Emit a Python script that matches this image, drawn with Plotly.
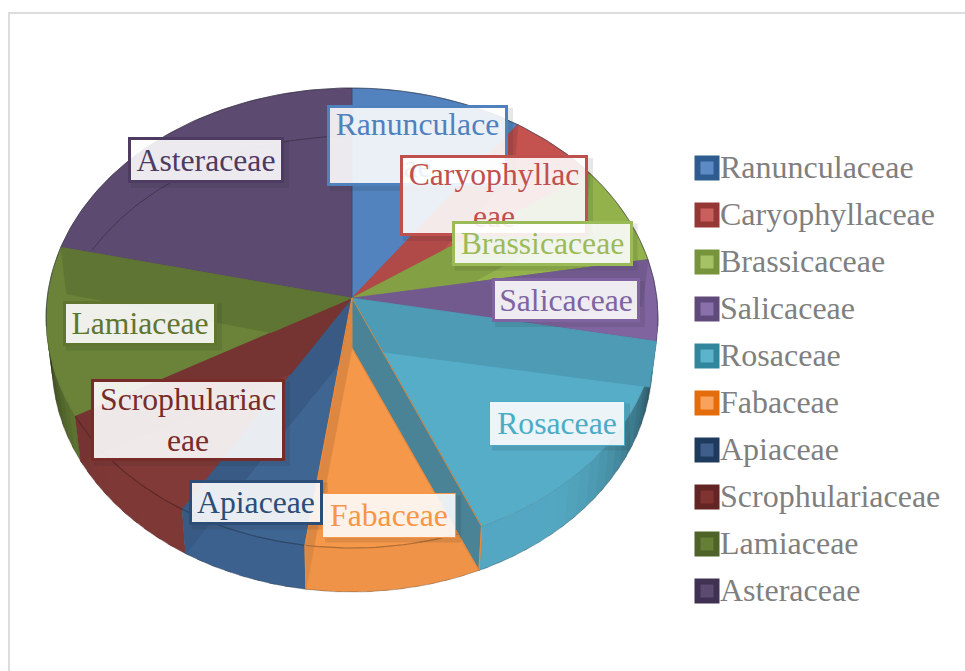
import math
import plotly.graph_objects as go

families = ["Ranunculaceae", "Caryophyllaceae", "Brassicaceae", "Salicaceae", "Rosaceae",
            "Fabaceae", "Apiaceae", "Scrophulariaceae", "Lamiaceae", "Asteraceae"]
values = [9.1, 5.1, 6.7, 5.7, 16.4, 9.4, 6.9, 8.6, 12.0, 20.0]
wrapped = ["Ranunculace<br>ae", "Caryophyllac<br>eae", "Brassicaceae", "Salicaceae", "Rosaceae",
           "Fabaceae", "Apiaceae", "Scrophulariac<br>eae", "Lamiaceae", "Asteraceae"]
top_colors = ["#5283bf", "#c45350", "#93b24c", "#7f649f", "#56adc8",
              "#f6984a", "#3f6593", "#823a38", "#6a8339", "#5c4a70"]
label_colors = ["#4f81bd", "#c0504d", "#9bbb59", "#8064a2", "#4bacc6",
                "#f79646", "#2c4d75", "#772c2a", "#5f7530", "#4d3b62"]
legend_outer = ["#2f5c8f", "#953735", "#77933c", "#604a7b", "#31859c",
                "#e46c0a", "#1f3a5f", "#632523", "#4f6228", "#3f3151"]
legend_inner = ["#5c8ac4", "#c9605d", "#a5c264", "#8a70aa", "#5cb3cc",
                "#f8a25c", "#3f5f8a", "#7f3432", "#667f36", "#5c4a70"]
# label box centre and outer size, in pixels
label_x = [417.5, 494, 542, 566, 557, 389, 256, 188, 140, 206]
label_y = [145.5, 195.5, 243, 300, 423, 515, 502, 420, 323, 160]
label_w = [181, 188, 181, 148, 136, 134, 134, 194, 154, 156]
label_h = [81, 81, 45, 44, 45, 45, 45, 82, 45, 46]

# pie geometry (pixels)
APEX = (352.0, 298.0)
APEX_LOW = (352.0, 348.0)
TOP = dict(cx=352.0, cy=318.0, rx=306.0, ry=230.0)
LOW = dict(cx=352.0, cy=364.0, rx=300.0, ry=228.0)
total = sum(values)
bounds = [0.0]
for v in values:
    bounds.append(bounds[-1] + 360.0 * v / total)


def pt(e, deg):
    a = math.radians(deg)
    return (e["cx"] + e["rx"] * math.sin(a), e["cy"] - e["ry"] * math.cos(a))


def arc(e, a, b, step=1.0):
    n = max(2, int(abs(b - a) / step) + 1)
    return [pt(e, a + (b - a) * i / (n - 1)) for i in range(n)]


def shade(col, f):
    r, g, b = int(col[1:3], 16), int(col[3:5], 16), int(col[5:7], 16)
    return "#%02x%02x%02x" % (int(r * f), int(g * f), int(b * f))


def side_of(p, q, s):
    return (q[0] - p[0]) * (s[1] - p[1]) - (q[1] - p[1]) * (s[0] - p[0])


def clip(poly, p, q, inside):
    """Keep the part of poly on the side of line pq that holds the point inside."""
    sign = 1 if side_of(p, q, inside) > 0 else -1
    out = []
    for i, c in enumerate(poly):
        d = poly[(i + 1) % len(poly)]
        sc, sd = side_of(p, q, c) * sign, side_of(p, q, d) * sign
        if sc >= 0:
            out.append(c)
        if sc * sd < 0:
            t = sc / (sc - sd)
            out.append((c[0] + (d[0] - c[0]) * t, c[1] + (d[1] - c[1]) * t))
    return out


fig = go.Figure()


def fill(poly, color, line=None, width=0.6):
    xs = [p[0] for p in poly] + [poly[0][0]]
    ys = [p[1] for p in poly] + [poly[0][1]]
    fig.add_trace(go.Scatter(x=xs, y=ys, mode="lines", fill="toself", fillcolor=color,
                             line=dict(color=line or color, width=width),
                             hoverinfo="skip", showlegend=False))


def stroke(pts, color, width=1.0):
    fig.add_trace(go.Scatter(x=[p[0] for p in pts], y=[p[1] for p in pts], mode="lines",
                             line=dict(color=color, width=width),
                             hoverinfo="skip", showlegend=False))


# side wall, darker towards the two ends
for i in range(len(values)):
    a, b = bounds[i], bounds[i + 1]
    lo, hi = max(a, 88.0), min(b, 272.0)
    d = lo
    while d < hi:
        e = min(d + 3.0, hi)
        m = (d + e) / 2
        f = 0.97
        if m < 140:
            f = 0.97 - 0.66 * ((140 - m) / 50) ** 1.6
        if m > 235:
            f = 0.97 - 0.59 * ((m - 235) / 35) ** 1.6
        over = min(e + 1.2, b)
        fill([pt(TOP, d), pt(TOP, over), pt(LOW, over), pt(LOW, d)], shade(top_colors[i], f),
             width=0)
        d = e

# top faces
for i in range(len(values)):
    fill([APEX] + arc(TOP, bounds[i], bounds[i + 1]), top_colors[i],
         line=shade(top_colors[i], 0.8))

# darker bands between each cut and the same cut seen on the lower face
for k in range(1, len(values)):
    deg = bounds[k]
    if abs(deg - bounds[5]) < 1e-6:
        continue  # the Rosaceae cut is drawn as an open wall below
    owner = k if deg < 180 else k - 1
    far = bounds[owner + 1] if deg < 180 else bounds[owner]
    mid = pt(TOP, (bounds[owner] + bounds[owner + 1]) / 2)
    band = [APEX, pt(TOP, deg), pt(LOW, deg), APEX_LOW]
    fill(clip(band, APEX, pt(TOP, far), mid), shade(top_colors[owner], 0.9))

# lower-face arc showing through the back of the largest slice
a9, b9 = bounds[9], bounds[10]
back = [p for p in arc(LOW, a9, b9) if side_of(APEX, pt(TOP, a9), p) * side_of(APEX, pt(TOP, a9), pt(TOP, (a9 + b9) / 2)) > 0]
stroke(back, shade(top_colors[9], 0.72), 1.0)

# rim of the top face along the front
for i in range(len(values)):
    if bounds[i] > 100 and bounds[i + 1] < 280:
        stroke(arc(TOP, bounds[i], bounds[i + 1]), shade(top_colors[i], 0.72), 1.2)

# open wall of the Rosaceae cut
cut = bounds[5]
fill([APEX, APEX_LOW, pt(LOW, cut), pt(TOP, cut)], "#4a8296", line="#c98a4a", width=1.0)
stroke([APEX_LOW, pt(LOW, cut)], "#e8893a", 1.0)
stroke([pt(TOP, cut), pt(LOW, cut)], "#e8893a", 1.2)
stroke([APEX, pt(TOP, bounds[6]), pt(LOW, bounds[6])], "#f08a38", 1.2)

# outer silhouette
stroke(arc(LOW, 92, 268), "rgba(60,60,60,0.4)", 0.8)
stroke(arc(TOP, 268, 360) + arc(TOP, 0, 92), "rgba(50,50,70,0.55)", 1.0)

# legend
leg_y = [168 + 47.0 * i for i in range(len(families))]
fig.add_trace(go.Scatter(x=[707] * len(families), y=leg_y, mode="markers",
                         marker=dict(symbol="square", size=25, color=legend_outer, line=dict(width=0)),
                         hoverinfo="skip", showlegend=False))
fig.add_trace(go.Scatter(x=[707] * len(families), y=leg_y, mode="markers",
                         marker=dict(symbol="square", size=13, color=legend_inner, line=dict(width=0)),
                         hoverinfo="skip", showlegend=False))
fig.add_trace(go.Scatter(x=[720] * len(families), y=[v + 1.5 for v in leg_y], mode="text", text=families,
                         textposition="middle right",
                         textfont=dict(family="Liberation Serif", size=32, color="#7f7f7f"),
                         hoverinfo="skip", showlegend=False, cliponaxis=False))

shapes = [dict(type="line", xref="x", yref="y", x0=9, x1=9, y0=12, y1=671,
               line=dict(color="#dcdcdc", width=2)),
          dict(type="line", xref="x", yref="y", x0=8, x1=965, y0=13, y1=13,
               line=dict(color="#dcdcdc", width=2))]
annotations = []
for i in range(len(families)):
    shapes.append(dict(type="rect", xref="x", yref="y", layer="above", line=dict(width=0),
                       x0=label_x[i] - label_w[i] / 2 + 3, x1=label_x[i] + label_w[i] / 2 + 5,
                       y0=label_y[i] - label_h[i] / 2 + 3, y1=label_y[i] + label_h[i] / 2 + 5,
                       fillcolor="rgba(40,40,40,0.11)"))
    thin = i in (4, 5)
    bw = 1 if thin else 3
    annotations.append(dict(x=label_x[i], y=label_y[i], xref="x", yref="y", text=wrapped[i],
                            showarrow=False, xanchor="center", yanchor="middle",
                            width=label_w[i] - 2 * bw, height=label_h[i] - 2 * bw, borderpad=0,
                            align="center", valign="middle",
                            font=dict(family="Liberation Serif", size=31.7, color=label_colors[i]),
                            bgcolor="rgba(255,255,255,0.89)", borderwidth=bw,
                            bordercolor=label_colors[i]))

fig.update_layout(width=965, height=671, autosize=False, margin=dict(l=0, r=0, t=0, b=0),
                  paper_bgcolor="white", plot_bgcolor="white", showlegend=False,
                  xaxis=dict(range=[0, 965], visible=False, fixedrange=True),
                  yaxis=dict(range=[671, 0], visible=False, fixedrange=True),
                  shapes=shapes, annotations=annotations)
fig.write_html("out.html", config={"displayModeBar": False},
               post_script="document.body.style.margin='0';document.body.style.overflow='hidden';")
